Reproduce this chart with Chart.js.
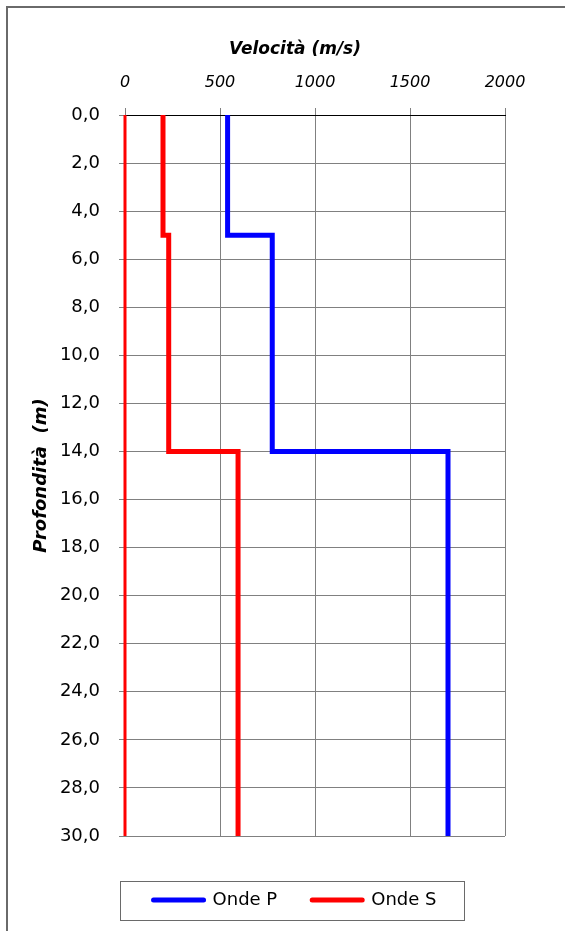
<!DOCTYPE html>
<html>
<head>
<meta charset="utf-8">
<script src="https://cdn.jsdelivr.net/npm/chart.js@4.4.1/dist/chart.umd.min.js"></script>
<style>
    html, body { margin: 0; padding: 0; background: #fff; }
    #wrap { position: absolute; left: 0; top: 0; width: 565px; height: 931px; overflow: hidden; }
    #frame { position: absolute; left: 6px; top: 6px; width: 620px; height: 1000px; border: 2px solid #6a6a6a; }
    canvas { position: absolute; left: 0; top: 0; }
</style>
</head>
<body>
<div id="wrap">
    <div id="frame"></div>
    <canvas id="chart" width="565" height="931"></canvas>
</div>
<script>
// =======================================
// Profilo sismico: velocità onde P / S
// =======================================

// strati (profondità in m)
const layerTop = [0, 5, 14];
const layerBottom = [5, 14, 30];

// velocità per strato (m/s)
const velP = [540, 775, 1700];
const velS = [200, 230, 595];

// linea rossa a velocità zero (asse)
const zeroVel = [0, 0];
const zeroDepth = [0, 30];

const seriesNames = ['Onde P', 'Onde S'];
const FONT = 'DejaVu Sans';

// profilo a gradini: ogni strato = tratto verticale
function stepPoints(vel) {
    const pts = [];
    for (let i = 0; i < vel.length; i++) {
        pts.push({ x: vel[i], y: layerTop[i] });
        pts.push({ x: vel[i], y: layerBottom[i] });
    }
    return pts;
}

// cornice attorno alla legenda
const legendBox = {
    id: 'legendBox',
    afterDraw(chart) {
        const lg = chart.legend;
        if (!lg || !lg.legendHitBoxes || !lg.legendHitBoxes.length) return;
        const boxes = lg.legendHitBoxes;
        const left = Math.min(...boxes.map((b) => b.left)) - 34;
        const right = Math.max(...boxes.map((b) => b.left + b.width)) + 27;
        const midY = boxes[0].top + boxes[0].height / 2;
        const ctx = chart.ctx;
        ctx.save();
        ctx.strokeStyle = '#6a6a6a';
        ctx.lineWidth = 1;
        ctx.strokeRect(Math.round(left) + 0.5, Math.round(midY - 19.5) + 0.5, Math.round(right - left), 39);
        ctx.restore();
    },
};

const ctx = document.getElementById('chart').getContext('2d');

const lineStyle = {
    showLine: true,
    pointRadius: 0,
    clip: false,
    xAxisID: 'x',
    yAxisID: 'y',
};

new Chart(ctx, {
    type: 'scatter',
    data: {
        datasets: [
            {
                ...lineStyle,
                label: seriesNames[0],
                data: stepPoints(velP),
                borderColor: '#0000ff',
                backgroundColor: '#0000ff',
                borderWidth: 5,
            },
            {
                ...lineStyle,
                label: seriesNames[1],
                data: stepPoints(velS),
                borderColor: '#ff0000',
                backgroundColor: '#ff0000',
                borderWidth: 5,
            },
            {
                ...lineStyle,
                label: 'zero',
                data: zeroVel.map((v, i) => ({ x: v, y: zeroDepth[i] })),
                borderColor: '#ff0000',
                backgroundColor: '#ff0000',
                borderWidth: 3,
            },
        ],
    },
    options: {
        responsive: false,
        animation: false,
        events: [],
        layout: { padding: { left: 25, right: 0, top: 0, bottom: 12 } },
        scales: {
            y: {
                type: 'linear',
                position: 'left',
                reverse: true,
                min: 0,
                max: 30,
                ticks: {
                    stepSize: 2,
                    padding: 19,
                    color: '#000',
                    font: { family: FONT, size: 18 },
                    callback: (v) => v.toFixed(1).replace('.', ','),
                },
                grid: { color: '#808080', lineWidth: 1, tickLength: 6, tickColor: '#808080' },
                border: { color: '#808080', width: 1 },
                title: {
                    display: true,
                    text: 'Profondità  (m)',
                    color: '#000',
                    font: { family: FONT, size: 18, weight: 'bold', style: 'italic' },
                    padding: { top: 6, bottom: 0 },
                },
                afterFit: (s) => { s.width = 100; },
            },
            yR: {
                type: 'linear',
                position: 'right',
                display: true,
                grid: { display: false },
                ticks: { display: false },
                border: { display: false },
                afterFit: (s) => { s.width = 60; },
            },
            x: {
                type: 'linear',
                position: 'top',
                min: 0,
                max: 2000,
                ticks: {
                    stepSize: 500,
                    padding: 16,
                    maxRotation: 0,
                    color: '#000',
                    font: { family: FONT, size: 16, style: 'italic' },
                    callback: (v) => String(v),
                },
                grid: { color: '#808080', lineWidth: 1, tickLength: 7, tickColor: '#808080' },
                border: { color: '#000', width: 1 },
                afterFit: (s) => { s.height = 55; },
            },
        },
        plugins: {
            tooltip: { enabled: false },
            title: {
                display: true,
                text: 'Velocità (m/s)',
                color: '#000',
                font: { family: FONT, size: 17, weight: 'bold', style: 'italic', lineHeight: '20px' },
                padding: { top: 40, bottom: 0 },
            },
            legend: {
                display: true,
                position: 'bottom',
                // titolo vuoto: solo spazio sopra le voci
                title: { display: true, text: '', font: { size: 10, lineHeight: '12px' }, padding: { top: 8, bottom: 0 } },
                labels: {
                    usePointStyle: true,
                    pointStyle: 'line',
                    pointStyleWidth: 50,
                    padding: 35,
                    color: '#000',
                    font: { family: FONT, size: 18 },
                    generateLabels(chart) {
                        const items = Chart.defaults.plugins.legend.labels.generateLabels(chart);
                        return items
                            .filter((it) => seriesNames.includes(it.text))
                            .map((it) => Object.assign(it, { lineCap: 'round' }));
                    },
                },
            },
        },
    },
    plugins: [legendBox],
});
</script>
</body>
</html>
